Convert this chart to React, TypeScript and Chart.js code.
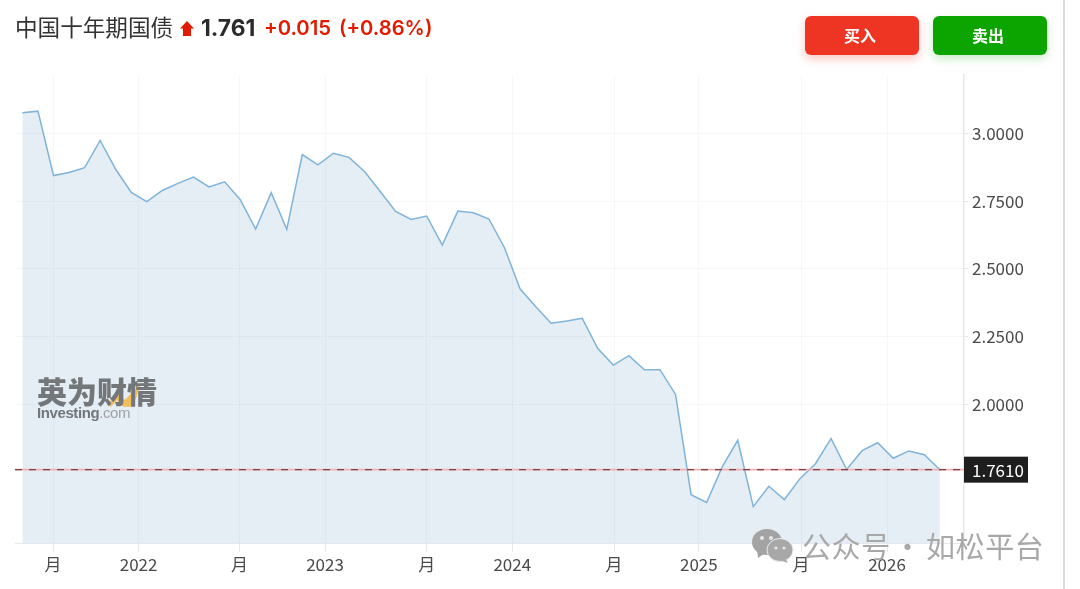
import React, { useEffect, useRef } from "react";
import { Chart, registerables } from "chart.js";

Chart.register(...registerables);

const yieldValues = [
  3.075, 3.081, 2.844, 2.855, 2.873, 2.973, 2.867, 2.782, 2.748, 2.789,
  2.815, 2.838, 2.802, 2.821, 2.756, 2.647, 2.781, 2.646, 2.921, 2.883,
  2.926, 2.911, 2.859, 2.786, 2.712, 2.682, 2.695, 2.588, 2.713, 2.707,
  2.684, 2.578, 2.427, 2.362, 2.3, 2.308, 2.318, 2.207, 2.146, 2.181,
  2.129, 2.129, 2.038, 1.669, 1.64, 1.771, 1.869, 1.625, 1.7, 1.651,
  1.728, 1.783, 1.876, 1.762, 1.831, 1.86, 1.803, 1.83, 1.816, 1.761,
];
const xTickIndex = [1.97, 7.47, 13.96, 19.46, 26.0, 31.5, 38.05, 43.5, 50.07, 55.6];
const xTickLabels = ["月", "2022", "月", "2023", "月", "2024", "月", "2025", "月", "2026"];
const yTicks = [2.0, 2.25, 2.5, 2.75, 3.0];
const lastValue = 1.761;
const xRange = [-0.476, 60.55];
const yRange = [1.491, 3.2141];

const FONT = '"Noto Sans CJK SC", "Noto Sans", sans-serif';

const lastLabel = {
  id: "lastLabel",
  afterDraw(chart: any) {
    const { ctx, scales } = chart;
    const y = scales.y.getPixelForValue(lastValue);
    const x = scales.y.left;
    ctx.save();
    ctx.fillStyle = "#1e1e1e";
    ctx.fillRect(x, y - 13, 64, 26);
    ctx.fillStyle = "#ffffff";
    ctx.font = `17px ${FONT}`;
    ctx.textAlign = "left";
    ctx.textBaseline = "middle";
    ctx.fillText(lastValue.toFixed(4), x + 8, y + 1);
    ctx.restore();
  },
};

export default function App() {
  const ref = useRef<HTMLCanvasElement>(null);
  useEffect(() => {
    const chart = new Chart(ref.current!, {
      type: "line",
      data: {
        datasets: [
          {
            data: [{ x: xRange[0], y: lastValue }, { x: xRange[1], y: lastValue }],
            borderColor: "#f4b0b0",
            borderWidth: 1.6,
            pointRadius: 0,
            fill: false,
            order: 2,
          },
          {
            data: [{ x: xRange[0], y: lastValue }, { x: xRange[1], y: lastValue }],
            borderColor: "#6a4045",
            borderWidth: 1.2,
            borderDash: [7, 7],
            pointRadius: 0,
            fill: false,
            order: 1,
          },
          {
            data: yieldValues.map((y, x) => ({ x, y })),
            borderColor: "#7fb3da",
            backgroundColor: "rgba(122,170,200,0.2)",
            borderWidth: 1.5,
            pointRadius: 0,
            tension: 0,
            fill: "start",
            order: 3,
          },
        ],
      },
      plugins: [lastLabel],
      options: {
        animation: false,
        responsive: false,
        events: [],
        layout: { padding: { left: 15, top: 75, right: 16, bottom: 0 } },
        plugins: { legend: { display: false }, tooltip: { enabled: false } },
        scales: {
          x: {
            type: "linear",
            min: xRange[0],
            max: xRange[1],
            afterBuildTicks: (s: any) => {
              s.ticks = xTickIndex.map((value) => ({ value }));
            },
            afterFit: (s: any) => {
              s.height = 46;
            },
            grid: {
              color: "#f6f7fa",
              tickColor: "#e6e8ee",
              tickLength: 9,
              lineWidth: 1,
              drawOnChartArea: true,
            },
            border: { color: "#e6e8ee", width: 1 },
            ticks: {
              autoSkip: false,
              maxRotation: 0,
              padding: 2,
              color: "#4a4a4a",
              font: { family: FONT, size: 17 },
              callback: (_v: any, i: number) => xTickLabels[i],
            },
          },
          y: {
            type: "linear",
            position: "right",
            min: yRange[0],
            max: yRange[1],
            afterBuildTicks: (s: any) => {
              s.ticks = yTicks.map((value) => ({ value }));
            },
            afterFit: (s: any) => {
              s.width = 100;
            },
            grid: { color: "#f6f7fa", tickColor: "#e6e8ee", tickLength: 4, lineWidth: 1 },
            border: { color: "#e6e8ee", width: 1.5 },
            ticks: {
              padding: 4,
              color: "#4a4a4a",
              font: { family: FONT, size: 17 },
              callback: (v: any) => Number(v).toFixed(4),
            },
          },
        },
      },
    });
    return () => chart.destroy();
  }, []);

  const abs = (s: React.CSSProperties): React.CSSProperties => ({
    position: "absolute",
    whiteSpace: "nowrap",
    ...s,
  });
  const btn = (left: number, bg: string, shadow: string): React.CSSProperties =>
    abs({
      left,
      top: 16,
      width: 114,
      height: 39,
      paddingRight: 4,
      boxSizing: "border-box",
      borderRadius: 6,
      background: bg,
      boxShadow: `0 4px 10px ${shadow}`,
      color: "#fff",
      fontFamily: FONT,
      fontWeight: 700,
      fontSize: 16,
      lineHeight: "39px",
      textAlign: "center",
    });
  const blur = "blur(0.5px)";

  return (
    <div style={{ position: "absolute", left: 0, top: 0, width: 1080, height: 589, background: "#fff", overflow: "hidden" }}>
      <canvas ref={ref} width={1080} height={589} style={{ position: "absolute", left: 0, top: 0 }} />
      <div style={abs({ left: 1063, top: 0, width: 2, height: 589, background: "#dcdcdc" })} />
      <div style={abs({ left: 15, top: 11, fontFamily: FONT, fontSize: 22.6, lineHeight: "32px", color: "#333333" })}>中国十年期国债</div>
      <svg style={abs({ left: 180, top: 21 })} width="14" height="15" viewBox="0 0 14 15">
        <path d="M7 0 L14 7.5 H11 V15 H3 V7.5 H0 Z" fill="#e01b00" />
      </svg>
      <div style={abs({ left: 201, top: 12, fontFamily: "Inter, sans-serif", fontWeight: 700, fontSize: 22.800, lineHeight: "32px", color: "#2a2a2a" })}>1.761</div>
      <div style={abs({ left: 264, top: 12, fontFamily: "Inter, sans-serif", fontWeight: 600, fontSize: 20.3, lineHeight: "32px", color: "#e01b00" })}>+0.015</div>
      <div style={abs({ left: 339, top: 12, fontFamily: "Inter, sans-serif", fontWeight: 600, fontSize: 20.2, lineHeight: "32px", color: "#e01b00" })}>(+0.86%)</div>
      <div style={btn(805, "#ee3524", "rgba(238,53,36,0.28)")}>买入</div>
      <div style={btn(933, "#0ca500", "rgba(12,165,0,0.22)")}>卖出</div>

      <svg style={abs({ left: 105, top: 380, filter: blur })} width="40" height="30" viewBox="0 0 40 30">
        <path d="M2 25 L12 13 L20 20 L36.700 1.700 L28 26.700 L18 26.700 L12 20 L6 26.700 Z" fill="#f2bd5c" />
      </svg>
      <div style={abs({ left: 37, top: 372, fontFamily: FONT, fontWeight: 900, fontSize: 30, lineHeight: "36px", letterSpacing: 0, color: "#74777a", filter: blur })}>英为财情</div>
      <div style={abs({ left: 37, top: 403, fontFamily: "Liberation Sans, sans-serif", fontWeight: 700, fontSize: 15, lineHeight: "20px", letterSpacing: -0.4, color: "#74777a", filter: blur })}>
        Investing<span style={{ fontWeight: 400, color: "#a0a2a5" }}>.com</span>
      </div>

      <svg style={abs({ left: 752, top: 528 })} width="42" height="36" viewBox="0 0 42 36">
        <ellipse cx="15" cy="14" rx="15" ry="13" fill="#a3a3a3" />
        <path d="M5 22 L6 30 L13 25 Z" fill="#a3a3a3" />
        <ellipse cx="28" cy="22" rx="13" ry="11.5" fill="#a8a8a8" stroke="#e4edf4" strokeWidth="1" />
        <path d="M33 30 L36 35 L28 32 Z" fill="#a8a8a8" />
        <circle cx="10" cy="10" r="2" fill="#e8e8e8" />
        <circle cx="19" cy="10" r="2" fill="#e8e8e8" />
        <circle cx="24" cy="20" r="1.6" fill="#e8e8e8" />
        <circle cx="32" cy="20" r="1.6" fill="#e8e8e8" />
      </svg>
      <div style={abs({ left: 802, top: 523, fontFamily: FONT, fontSize: 29, lineHeight: "44px", letterSpacing: 0.6, color: "#a8a8a8" })}>公众号</div>
      <div style={abs({ left: 893, top: 523, fontFamily: FONT, fontSize: 29, lineHeight: "44px", color: "#a8a8a8" })}>·</div>
      <div style={abs({ left: 926, top: 523, fontFamily: FONT, fontSize: 29, lineHeight: "44px", letterSpacing: 0.6, color: "#a8a8a8" })}>如松平台</div>
    </div>
  );
}
